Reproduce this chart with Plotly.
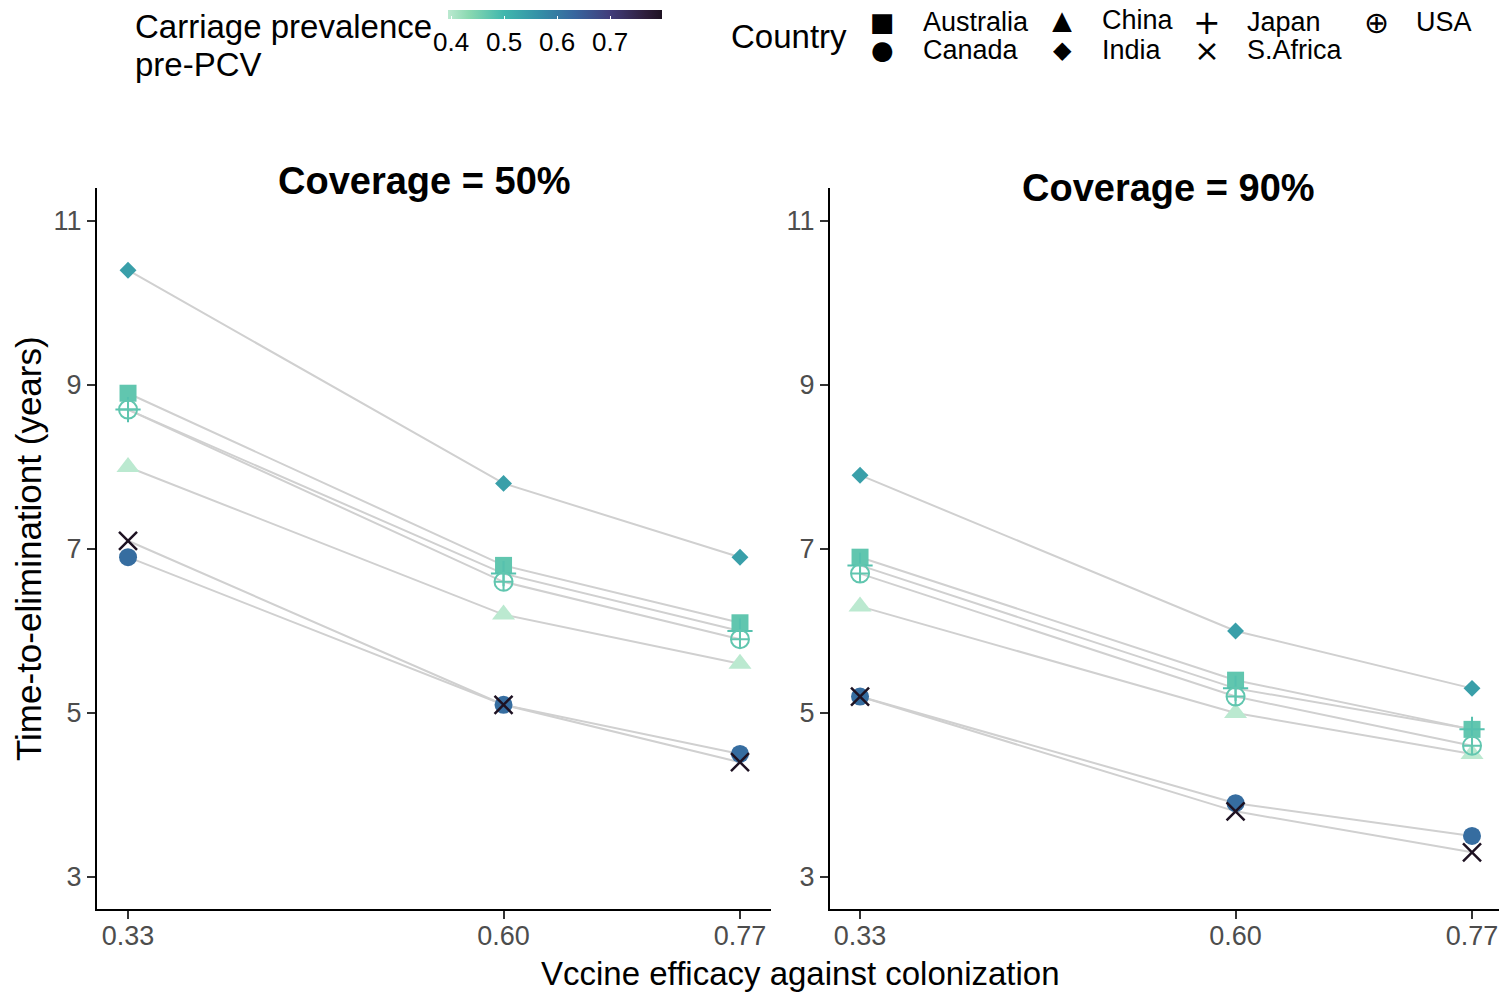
import plotly.graph_objects as go

# ---- data -------------------------------------------------------------
countries = ["Australia", "Canada", "China", "India", "Japan", "S.Africa", "USA"]
carriage_pre_pcv = [0.47, 0.62, 0.394, 0.54, 0.48, 0.798, 0.47]

efficacy = [0.33, 0.60, 0.77]
efficacy_labels = ["0.33", "0.60", "0.77"]

# time to elimination (years) per country, at efficacy 0.33 / 0.60 / 0.77
elim_cov50 = [
    [8.9, 6.8, 6.1],   # Australia
    [6.9, 5.1, 4.5],   # Canada
    [8.0, 6.2, 5.6],   # China
    [10.4, 7.8, 6.9],  # India
    [8.7, 6.7, 6.0],   # Japan
    [7.1, 5.1, 4.4],   # S.Africa
    [8.7, 6.6, 5.9],   # USA
]
elim_cov90 = [
    [6.9, 5.4, 4.8],
    [5.2, 3.9, 3.5],
    [6.3, 5.0, 4.5],
    [7.9, 6.0, 5.3],
    [6.8, 5.3, 4.8],
    [5.2, 3.8, 3.3],
    [6.7, 5.2, 4.6],
]
panel_titles = ["Coverage = 50%", "Coverage = 90%"]
y_ticks = [3, 5, 7, 9, 11]
cbar_ticks = [0.4, 0.5, 0.6, 0.7]

# ---- styling ------------------------------------------------------------
W, H = 1499, 993
FONT = "Liberation Sans, Arial, sans-serif"
TICK_GREY = "#4D4D4D"

symbols = {
    "Australia": ("square", 17, 0),
    "Canada": ("circle", 18, 0),
    "China": ("triangle-up", 20, 0),
    "India": ("diamond", 13, 0),
    "Japan": ("cross-thin-open", 18, 2),
    "S.Africa": ("x-thin-open", 18, 2.5),
    "USA": ("circle-cross-open", 18, 2),
}

# reversed "mako" palette
mako_rev = [
    [0.000, "#BBE9D0"],
    [0.097, "#8AD9B1"],
    [0.262, "#40B7AD"],
    [0.428, "#348FA7"],
    [0.592, "#37659E"],
    [0.757, "#413D7B"],
    [0.923, "#2E1E3B"],
    [1.000, "#1E1222"],
]


def px(x):
    return x / W


def py(y):
    return 1 - y / H


fig = go.Figure()

panels = [
    ("x", "y", elim_cov50),
    ("x2", "y2", elim_cov90),
]

# connecting lines first so every point sits on top
for xa, ya, table in panels:
    for name, vals in zip(countries, table):
        fig.add_trace(go.Scatter(
            x=efficacy, y=vals, xaxis=xa, yaxis=ya, mode="lines",
            line=dict(color="#D0D0D0", width=2), showlegend=False,
            hoverinfo="skip",
        ))

for xa, ya, table in panels:
    for name, vals, prev in zip(countries, table, carriage_pre_pcv):
        sym, size, lw = symbols[name]
        fig.add_trace(go.Scatter(
            x=efficacy, y=vals, xaxis=xa, yaxis=ya, mode="markers", name=name,
            marker=dict(symbol=sym, size=size, color=[prev] * len(vals),
                        coloraxis="coloraxis", line=dict(width=lw)),
            showlegend=False,
        ))

axis_common = dict(
    showline=True, linecolor="black", linewidth=2, mirror=False,
    ticks="outside", ticklen=8, tickwidth=2, tickcolor="#333333",
    showgrid=False, zeroline=False, ticklabeloverflow="allow",
    tickfont=dict(family=FONT, size=27, color=TICK_GREY),
)

fig.update_layout(
    width=W, height=H,
    margin=dict(l=0, r=0, t=0, b=0),
    paper_bgcolor="white", plot_bgcolor="white",
    showlegend=False,
    xaxis=dict(domain=[px(97), px(771)], range=[0.3077, 0.7923],
               tickvals=efficacy, ticktext=efficacy_labels, anchor="y",
               ticklabelstandoff=-6, **axis_common),
    yaxis=dict(domain=[py(909), py(188)], range=[2.609, 11.403],
               tickvals=y_ticks, anchor="x", **axis_common),
    xaxis2=dict(domain=[px(830), 1.0], range=[0.3084, 0.7894],
                tickvals=efficacy, ticktext=efficacy_labels, anchor="y2",
                ticklabelstandoff=-6, **axis_common),
    yaxis2=dict(domain=[py(909), py(188)], range=[2.609, 11.403],
                tickvals=y_ticks, anchor="x2", **axis_common),
    coloraxis=dict(
        colorscale=mako_rev,
        cmin=min(carriage_pre_pcv), cmax=max(carriage_pre_pcv),
        colorbar=dict(
            orientation="h", lenmode="pixels", len=214, thickness=9,
            thicknessmode="pixels",
            x=px(555), xanchor="center", y=py(10), yanchor="top",
            ypad=0, xpad=0, outlinewidth=0,
            tickvals=cbar_ticks, ticktext=[f"{v:.1f}" for v in cbar_ticks],
            tickangle=0,
            ticks="inside", ticklen=3, tickcolor="white", tickwidth=1,
            tickfont=dict(family=FONT, size=26, color="black"),
        ),
    ),
)

ann = []


def text(x, y, s, size, xanchor="left", color="black", bold=False, angle=0,
         family=FONT, box_h=None):
    a = dict(
        x=px(x), y=py(y), xref="paper", yref="paper", text=f"<b>{s}</b>" if bold else s,
        showarrow=False, xanchor=xanchor, yanchor="middle", textangle=angle,
        font=dict(family=family, size=size, color=color),
    )
    if box_h is not None:
        a.update(height=box_h, valign="middle", borderpad=0)
    ann.append(a)


# panel strips
text(424, 181, panel_titles[0], 38, xanchor="center", bold=True)
text(1168, 188, panel_titles[1], 38, xanchor="center", bold=True)

# axis titles
text(800, 973, "Vccine efficacy against colonization", 33, xanchor="center")
text(28, 549, "Time-to-eliminationt (years)", 35, xanchor="center", angle=-90)

# colour bar title
text(133, 27, "Carriage prevalence", 33)
text(133, 65, "pre-PCV", 33)

# shape legend
text(729, 37, "Country", 33)
SYM_FONT = "DejaVu Sans, sans-serif"
legend_rows = [
    ("■", 882, 22, "Australia", 921, 26),
    ("●", 882, 50, "Canada", 921, 26),
    ("▲", 1062, 20, "China", 1100, 26),
    ("◆", 1062, 50, "India", 1100, 24),
    ("+", 1207, 22, "Japan", 1245, 33),
    ("×", 1207, 50, "S.Africa", 1245, 31),
    ("⊕", 1376, 22, "USA", 1414, 30),
]
for glyph, gx, gy, label, lx, gsize in legend_rows:
    text(gx, gy, glyph, gsize, xanchor="center", family=SYM_FONT, box_h=24)
    text(lx, gy, label, 27)

fig.update_layout(annotations=ann)

fig.write_html("out.html")
